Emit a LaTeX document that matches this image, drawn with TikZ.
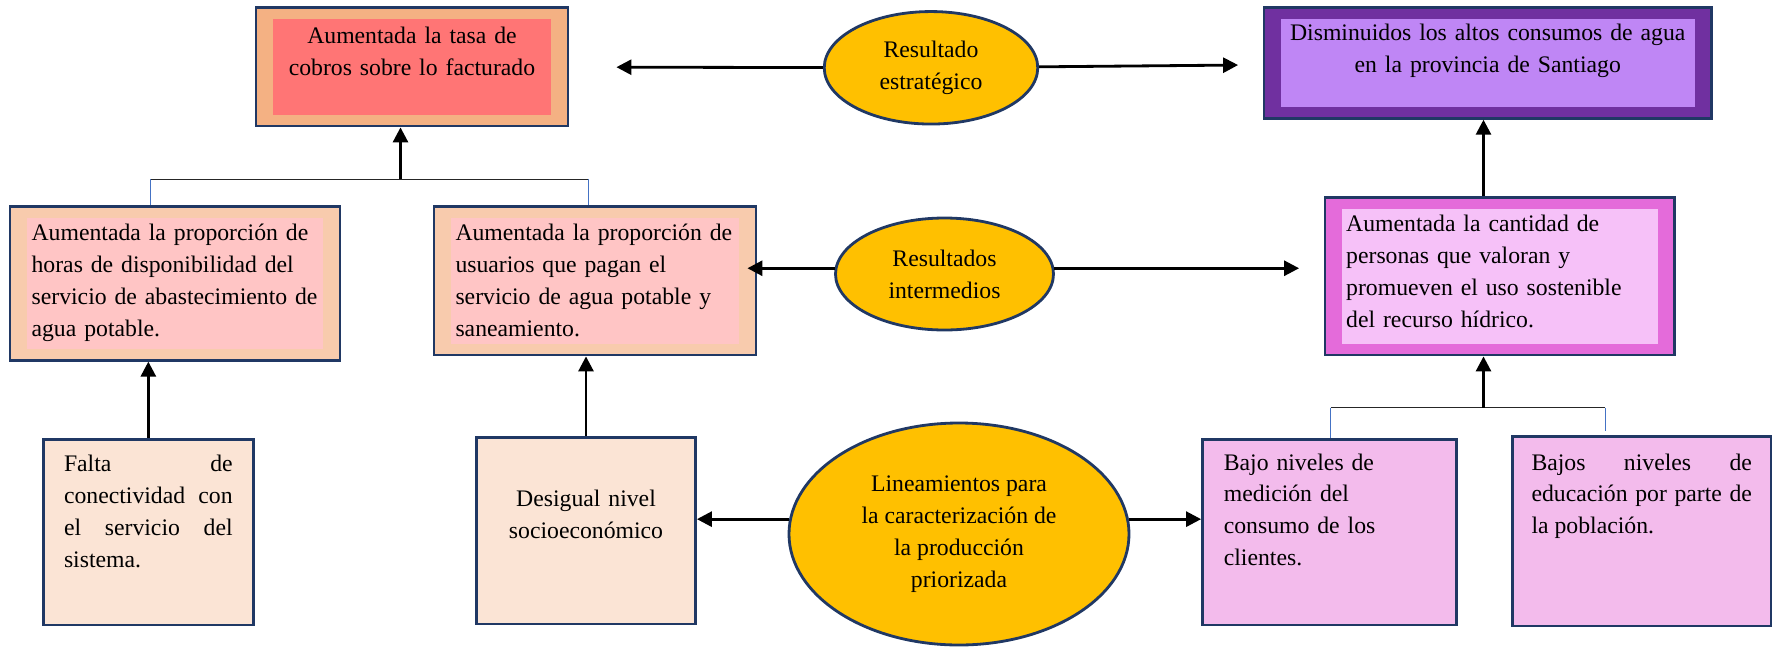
\documentclass[tikz,border=0pt]{standalone}
\usepackage{fontspec}
\setmainfont{Liberation Serif}
\usepackage{color}
\usepackage{tikz}
\usetikzlibrary{shapes,arrows.meta}
\definecolor{marino}{HTML}{203864}
\definecolor{oro}{HTML}{FFC000}
\definecolor{tasaext}{HTML}{F4B183}
\definecolor{tasaint}{HTML}{FF7575}
\definecolor{melocoton}{HTML}{F8CBAD}
\definecolor{rosa}{HTML}{FFC5C5}
\definecolor{morado}{HTML}{7030A0}
\definecolor{lila}{HTML}{BF86F5}
\definecolor{fucsia}{HTML}{E46BDA}
\definecolor{rosado}{HTML}{F6C1F8}
\definecolor{crema}{HTML}{FBE4D5}
\definecolor{orquidea}{HTML}{F3BBEC}
\definecolor{azul}{HTML}{4472C4}
\tikzset{
   caja/.style={rectangle, draw=marino, line width=1.6pt, inner ysep=0pt,
                font=\fontsize{13.5}{18.2}\selectfont},
   marco/.style 2 args={caja, fill=#1,
                path picture={\fill[#2] ([shift={(0.34,-0.23)}]path picture bounding box.north west)
                              rectangle ([shift={(-0.34,0.23)}]path picture bounding box.south east);}},
   globo/.style={ellipse, draw=marino, line width=1.6pt, fill=oro, inner sep=0pt, align=center,
                font=\fontsize{13.5}{18.2}\selectfont},
   flecha/.style={-{Triangle[length=0.3cm,width=0.3cm]}, line width=1.6pt, black},
   barra/.style={line width=0.6pt, black!85},
   guia/.style={line width=0.5pt, azul}
}
\begin{document}
\begin{tikzpicture}
\useasboundingbox (0,0) rectangle (35.46,-12.98);

% resultado estrategico
\node[marco={tasaext}{tasaint}, align=center, text width=5.44cm, inner xsep=0.4cm, text height=0.716cm, text depth=1.654cm] (tasa) at (8.24,-1.335) {Aumentada la tasa de\\cobros sobre lo facturado};
\node[globo, minimum width=4.27cm, minimum height=2.25cm] (estrat) at (18.62,-1.356) {Resultado\\estratégico};
\node[marco={morado}{lila}, align=center, text width=8.35cm, inner xsep=0.3cm, text height=0.668cm, text depth=1.552cm] (dismin) at (29.755,-1.256) {Disminuidos los altos consumos de agua\\en la provincia de Santiago};

% resultados intermedios
\node[marco={melocoton}{rosa}, align=left, text width=5.736cm, inner xsep=0.432cm, text height=0.68cm, text depth=2.39cm] (horas) at (3.5,-5.669) {Aumentada la proporción de\\horas de disponibilidad del\\servicio de abastecimiento de\\agua potable.};
\node[marco={melocoton}{rosa}, align=left, text width=5.58cm, inner xsep=0.43cm, text height=0.68cm, text depth=2.286cm] (usuarios) at (11.9,-5.617) {Aumentada la proporción de\\usuarios que pagan el\\servicio de agua potable y\\saneamiento.};
\node[globo, minimum width=4.36cm, minimum height=2.24cm] (intermedios) at (18.89,-5.48) {Resultados\\intermedios};
\node[marco={fucsia}{rosado}, align=left, text width=6.142cm, inner xsep=0.424cm, text height=0.68cm, text depth=2.466cm] (cantidad) at (29.995,-5.527) {Aumentada la cantidad de\\personas que valoran y\\promueven el uso sostenible\\del recurso hídrico.};

% lineamientos
\node[caja, fill=crema, align=justify, text width=3.374cm, inner xsep=0.408cm, text height=0.648cm, text depth=3.066cm] (falta) at (2.967,-10.643) {Falta de\linebreak conectividad con\linebreak el servicio del\linebreak sistema.};
\node[caja, fill=crema, align=center, text width=3.6cm, inner xsep=0.39cm, text height=1.388cm, text depth=2.346cm] (desigual) at (11.72,-10.613) {Desigual nivel\\socioeconómico};
\node[globo, minimum width=6.8cm, minimum height=4.44cm] (lineam) at (19.18,-10.68) {Lineamientos para\\la caracterización de\\la producción\\priorizada};
\node[caja, fill=orquidea, align=left, text width=4.228cm, inner xsep=0.426cm, text height=0.614cm, text depth=3.1cm] (bajo) at (26.59,-10.643) {Bajo niveles de\\medición del\\consumo de los\\clientes.};
\node[caja, fill=orquidea, align=justify, text width=4.41cm, inner xsep=0.38cm, text height=0.666cm, text depth=3.12cm] (educ) at (32.835,-10.627) {Bajos niveles de\linebreak educación por parte de\linebreak la población.};

% uniones
\coordinate (juntaA) at (8.01,-3.586);
\coordinate (bA1) at (3.006,-3.586);
\coordinate (bA2) at (11.768,-3.586);
\coordinate (juntaB) at (29.67,-8.154);
\coordinate (bB1) at (26.61,-8.154);
\coordinate (bB2) at (32.1,-8.154);

\draw[barra] (bA1) -- (bA2);
\draw[barra] (bB1) -- (bB2);
\path[guia]
(bA1) edge (bA1 |- horas.north)
(bA2) edge (bA2 |- usuarios.north)
(bB1) edge (bB1 |- bajo.north)
(bB2) edge[shorten >=0.08cm] (bB2 |- educ.north)
;

\path[flecha]
(estrat) edge[shorten >=0.94cm] (tasa)
(estrat) edge[shorten >=0.49cm] (dismin)
(intermedios.177) edge[shorten >=-0.2cm] (intermedios.177 -| usuarios.east)
(intermedios.3) edge[shorten >=0.49cm] (intermedios.3 -| cantidad.west)
(lineam.175) edge (lineam.175 -| desigual.east)
(lineam.5) edge (lineam.5 -| bajo.west)
(juntaA) edge (juntaA |- tasa.south)
(juntaB) edge (juntaB |- cantidad.south)
(juntaB |- cantidad.north) edge (juntaB |- dismin.south)
(falta.north) edge (falta.north |- horas.south)
(desigual.north) edge (desigual.north |- usuarios.south)
;

\end{tikzpicture}
\end{document}
